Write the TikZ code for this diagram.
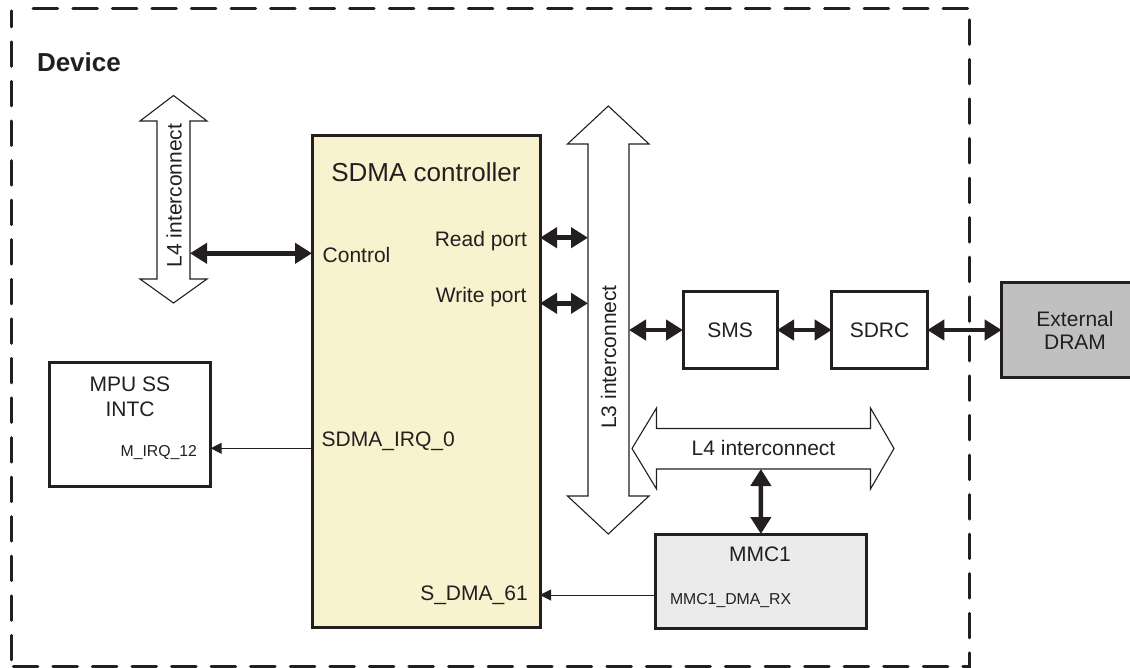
\documentclass[tikz,border=0pt]{standalone}
\usepackage{fontspec}
\setmainfont{Liberation Sans}
\usetikzlibrary{arrows.meta}
\definecolor{ink}{HTML}{231F20}
\definecolor{sdmafill}{HTML}{F8F2CE}
\definecolor{mmcfill}{HTML}{EBEBEB}
\definecolor{dramfill}{HTML}{C0C0C0}
\begin{document}
\begin{tikzpicture}[x=1pt,y=-1pt,
  every node/.style={inner sep=0pt, outer sep=0pt, text=ink},
  box/.style={draw=ink, line width=3pt, anchor=north west},
  bus/.style={draw=ink, line width=1.1pt, fill=white, line join=miter},
  dbl/.style={draw=ink, line width=4.5pt, {Triangle[length=17pt,width=20pt]}-{Triangle[length=17pt,width=20pt]}},
  sig/.style={draw=ink, line width=1pt, -{Triangle[length=11pt,width=11pt]}},
  border/.style={draw=ink, line width=3pt, line cap=round, dash pattern=on 24.5pt off 15.065pt},
  lbl/.style={font=\fontsize{21}{25}\selectfont},
  small/.style={font=\fontsize{15.8}{18}\selectfont},
  big/.style={font=\fontsize{26}{30}\selectfont}]
\useasboundingbox (0,0) rectangle (1130,667);

% device border
\draw[border] (33.2,8.7) -- (967.7,8.7);
\draw[border] (969.3,19.8) -- (969.3,672);
\draw[border, dash phase=8.5pt] (11.7,10.8) -- (11.7,672);
\draw[border, dash phase=37.96pt] (11.7,666.5) -- (969.3,666.5);
\node[font=\fontsize{26}{30}\selectfont\bfseries, anchor=base west] (dev) at (37,71.7) {Device};

% bus arrows
\draw[bus] (173.5,95.5) -- (207,121) -- (190,121) -- (190,279) -- (207,279) -- (173.5,303)
  -- (140,279) -- (157,279) -- (157,121) -- (140,121) -- cycle;
\node[lbl, rotate=90, anchor=base] (l4vtxt) at (181.5,195.5) {L4 interconnect};

\draw[bus] (608.3,106) -- (649,144) -- (629,144) -- (629,496) -- (649,496) -- (608.3,534)
  -- (567.5,496) -- (588,496) -- (588,144) -- (567.5,144) -- cycle;
\node[lbl, rotate=90, anchor=base] (l3txt) at (616,357) {L3 interconnect};

\draw[bus] (632,448.5) -- (656.5,408) -- (656.5,428.5) -- (870.5,428.5) -- (870.5,408) -- (894,448.5)
  -- (870.5,489) -- (870.5,469) -- (656.5,469) -- (656.5,489) -- cycle;
\node[lbl, anchor=base] (l4htxt) at (763.5,455.7) {L4 interconnect};

% boxes
\node[box, fill=sdmafill, minimum width=228pt, minimum height=492.5pt] (sdma) at (312,135) {};
\node[big, anchor=base] (sdmatxt) at (426,181) {SDMA controller};
\node[lbl, anchor=base west] (ctl) at (322.7,262.7) {Control};
\node[lbl, anchor=base east] (rdp) at (527,246.7) {Read port};
\node[lbl, anchor=base east] (wrp) at (526.5,302.3) {Write port};
\node[lbl, anchor=base west] (irqtxt) at (321.7,446.7) {SDMA\_IRQ\_0};
\node[lbl, anchor=base east] (sdmatxt61) at (527.7,600.7) {S\_DMA\_61};

\node[box, fill=white, minimum width=161.4pt, minimum height=123.3pt] (mpu) at (49.3,362.7) {};
\node[lbl, anchor=base] (mpu1) at (130,391.7) {MPU SS};
\node[lbl, anchor=base] (mpu2) at (130,416) {INTC};
\node[small, anchor=base east] (mirq) at (197,456) {M\_IRQ\_12};

\node[box, fill=white, minimum width=94pt, minimum height=76.6pt] (sms) at (683,291.7) {};
\node[lbl, anchor=base] (smstxt) at (730,337.3) {SMS};
\node[box, fill=white, minimum width=95.6pt, minimum height=76.6pt] (sdrc) at (831.7,291.7) {};
\node[lbl, anchor=base] (sdrctxt) at (879.5,337.3) {SDRC};
\node[box, fill=dramfill, minimum width=140pt, minimum height=94.6pt] (dram) at (1001.7,282.7) {};
\node[lbl, anchor=base] (dram1) at (1075,326) {External};
\node[lbl, anchor=base] (dram2) at (1075,349) {DRAM};

\node[box, fill=mmcfill, minimum width=210.3pt, minimum height=94.7pt] (mmc) at (655.7,534) {};
\node[lbl, anchor=base] (mmctxt) at (760,561.7) {MMC1};
\node[small, anchor=base west] (rxtxt) at (670,604) {MMC1\_DMA\_RX};

% connectors
\coordinate (l4vR) at (190,253.3);
\draw[dbl] (l4vR) -- (sdma.west |- l4vR);
\coordinate (rdY) at (588,237.7);
\draw[dbl] (sdma.east |- rdY) -- (rdY);
\coordinate (wrY) at (588,303.3);
\draw[dbl] (sdma.east |- wrY) -- (wrY);
\coordinate (l3R) at (629,330);
\draw[dbl] (l3R) -- (sms.west);
\draw[dbl] (sms.east) -- (sdrc.west);
\draw[dbl] (sdrc.east) -- (dram.west |- sdrc.east);
\coordinate (l4hB) at (760.9,469);
\draw[dbl] (l4hB) -- (mmc.north);
\coordinate (irq) at (312,448.3);
\draw[sig] (irq) -- (mpu.east |- irq);
\coordinate (rxout) at (655.7,595);
\draw[sig] (rxout) -- (sdma.east |- rxout);
\end{tikzpicture}
\end{document}
